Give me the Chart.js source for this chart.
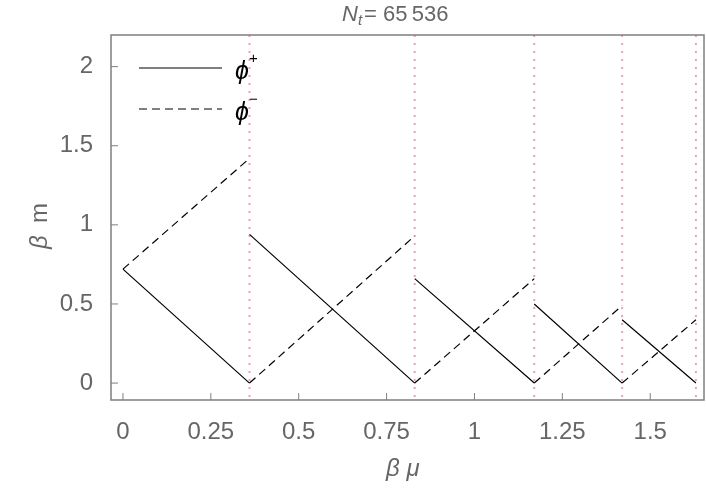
<!DOCTYPE html>
<html>
<head>
<meta charset="utf-8">
<script src="https://cdn.jsdelivr.net/npm/chart.js@4"></script>
<style>
  body { margin: 0; background: #fff; }
  #wrap { width: 706px; height: 491px; }
</style>
</head>
<body>
<div id="wrap"><canvas id="c"></canvas></div>
<script>
// segment end points
const breaks = [0, 0.36, 0.83, 1.17, 1.42, 1.63];
const plusStart = [0.72, 0.94, 0.66, 0.50, 0.40];   // phi+ value at left end of each segment, falls to 0
const minusEnd = [1.42, 0.93, 0.66, 0.49, 0.40];    // phi- value at right end of each segment
const minusStart = [0.72, 0, 0, 0, 0];
const xTicks = [0, 0.25, 0.5, 0.75, 1, 1.25, 1.5];
const yTicks = [0, 0.5, 1, 1.5, 2];
const vLines = [0.36, 0.83, 1.17, 1.42, 1.63];

function segs(starts, ends) {
  const pts = [];
  for (let i = 0; i < starts.length; i++) {
    pts.push({ x: breaks[i], y: starts[i] });
    pts.push({ x: breaks[i + 1], y: ends[i] });
    pts.push({ x: breaks[i + 1], y: null });
  }
  return pts;
}
const plusData = segs(plusStart, plusStart.map(() => 0));
const minusData = segs(minusStart, minusEnd);

const gray = '#7f7f7f';
const textGray = '#666';
const font = '"Liberation Sans", Arial, sans-serif';

const decor = {
  id: 'decor',
  beforeDatasetsDraw(chart) {
    const { ctx, chartArea: a, scales: { x } } = chart;
    ctx.save();
    ctx.strokeStyle = '#f4a0a8';
    ctx.lineWidth = 2;
    ctx.setLineDash([2, 6]);
    vLines.forEach(v => {
      const px = x.getPixelForValue(v);
      ctx.beginPath(); ctx.moveTo(px, a.top); ctx.lineTo(px, a.bottom); ctx.stroke();
    });
    ctx.restore();
  },
  afterDraw(chart) {
    const { ctx, chartArea: a, scales: { x, y } } = chart;
    ctx.save();
    ctx.strokeStyle = gray;
    ctx.lineWidth = 1.5;
    ctx.strokeRect(a.left, a.top, a.right - a.left, a.bottom - a.top);
    ctx.lineWidth = 1;
    xTicks.forEach(v => {
      const px = x.getPixelForValue(v);
      ctx.beginPath(); ctx.moveTo(px, a.bottom); ctx.lineTo(px, a.bottom - 7); ctx.stroke();
    });
    yTicks.forEach(v => {
      const py = y.getPixelForValue(v);
      ctx.beginPath(); ctx.moveTo(a.left, py); ctx.lineTo(a.left + 7, py); ctx.stroke();
    });
    // legend
    ctx.strokeStyle = '#000';
    ctx.lineWidth = 1;
    ctx.beginPath(); ctx.moveTo(139, 68); ctx.lineTo(222, 68); ctx.stroke();
    ctx.setLineDash([8, 5]);
    ctx.beginPath(); ctx.moveTo(139, 109); ctx.lineTo(222, 109); ctx.stroke();
    ctx.setLineDash([]);
    ctx.fillStyle = '#000';
    ctx.font = 'italic 25px ' + font;
    ctx.textBaseline = 'middle';
    ctx.fillText('\u03d5', 235, 72);
    ctx.fillText('\u03d5', 235, 113);
    ctx.font = '15px ' + font;
    ctx.fillText('+', 249, 59);
    ctx.fillText('\u2212', 249, 100);
    // title and axis titles
    ctx.fillStyle = textGray;
    ctx.font = 'italic 22px ' + font;
    ctx.fillText('N', 342, 15);
    ctx.font = 'italic 15px ' + font;
    ctx.fillText('t', 358, 21);
    ctx.font = '22px ' + font;
    ctx.fillText('= 65\u2009536', 364, 15);
    ctx.font = 'italic 24px ' + font;
    ctx.fillText('\u03b2 \u03bc', 386, 469);
    ctx.translate(40, 225);
    ctx.rotate(-Math.PI / 2);
    ctx.font = 'italic 24px ' + font;
    ctx.fillText('\u03b2', -24, 0);
    ctx.font = '24px ' + font;
    ctx.fillText('m', 2, 0);
    ctx.restore();
  }
};

new Chart(document.getElementById('c'), {
  type: 'line',
  data: {
    datasets: [
      { label: '\u03d5+', data: plusData, borderColor: '#000', borderWidth: 1.2, pointRadius: 0, spanGaps: false, tension: 0 },
      { label: '\u03d5\u2212', data: minusData, borderColor: '#000', borderWidth: 1.2, borderDash: [8, 5], pointRadius: 0, spanGaps: false, tension: 0 }
    ]
  },
  options: {
    responsive: true,
    maintainAspectRatio: false,
    animation: false,
    layout: { padding: { top: 35, right: 2, left: 0, bottom: 0 } },
    plugins: { legend: { display: false }, tooltip: { enabled: false } },
    scales: {
      x: {
        type: 'linear', min: -0.034, max: 1.653,
        grid: { display: false }, border: { display: false },
        afterBuildTicks: s => { s.ticks = xTicks.map(v => ({ value: v })); },
        afterFit: s => { s.height = 91; },
        ticks: { color: textGray, font: { family: font, size: 24 }, padding: 10, callback: v => String(v) }
      },
      y: {
        type: 'linear', min: -0.107, max: 2.2,
        grid: { display: false }, border: { display: false },
        afterBuildTicks: s => { s.ticks = yTicks.map(v => ({ value: v })); },
        afterFit: s => { s.width = 111; },
        ticks: { color: textGray, font: { family: font, size: 24 }, padding: 10, callback: v => String(v) }
      }
    }
  },
  plugins: [decor]
});
</script>
</body>
</html>
